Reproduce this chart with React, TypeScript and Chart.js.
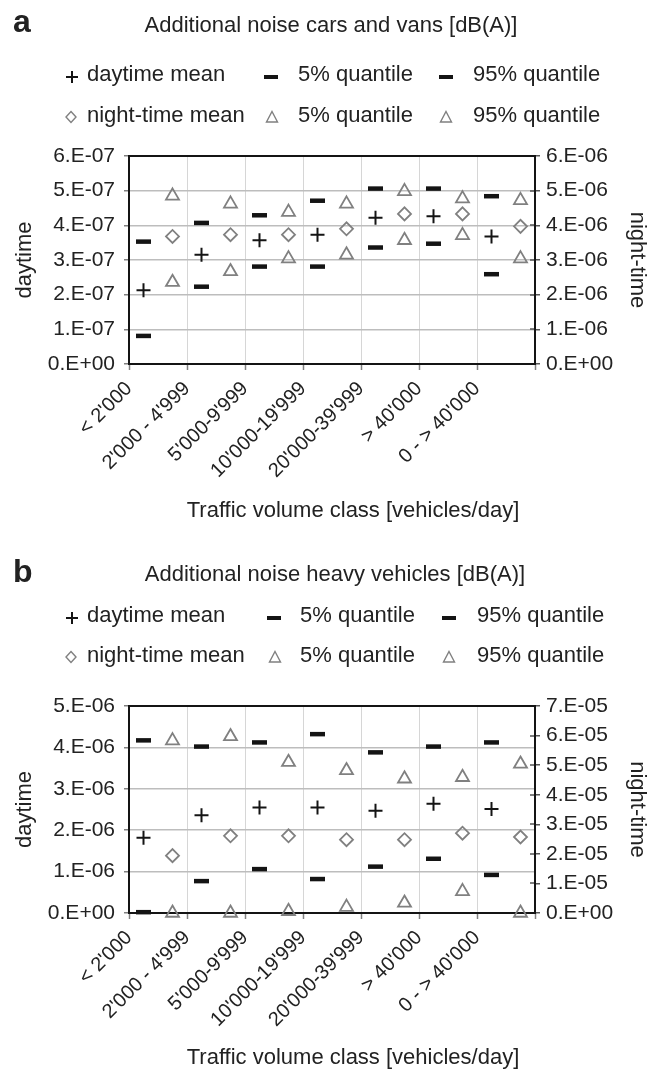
import React, { useEffect, useRef } from 'react';
import { Chart, registerables } from 'chart.js';

Chart.register(...registerables);

// ---------- data ----------
const categories = ["< 2'000", "2'000 - 4'999", "5'000-9'999", "10'000-19'999", "20'000-39'999", "> 40'000", "0 - > 40'000"];

// panel a: cars and vans
const aDayMean = [2.13e-7, 3.15e-7, 3.57e-7, 3.73e-7, 4.22e-7, 4.26e-7, 3.68e-7];
const aDayQ5 = [0.81e-7, 2.23e-7, 2.81e-7, 2.81e-7, 3.36e-7, 3.47e-7, 2.59e-7];
const aDayQ95 = [3.53e-7, 4.07e-7, 4.29e-7, 4.71e-7, 5.06e-7, 5.06e-7, 4.84e-7];
const aNightMean = [3.68e-6, 3.73e-6, 3.73e-6, 3.9e-6, 4.33e-6, 4.33e-6, 3.97e-6];
const aNightQ5 = [2.36e-6, 2.67e-6, 3.04e-6, 3.15e-6, 3.57e-6, 3.71e-6, 3.04e-6];
const aNightQ95 = [4.85e-6, 4.62e-6, 4.38e-6, 4.62e-6, 4.98e-6, 4.77e-6, 4.72e-6];

// panel b: heavy vehicles
const bDayMean = [1.82e-6, 2.36e-6, 2.55e-6, 2.55e-6, 2.47e-6, 2.64e-6, 2.51e-6];
const bDayQ5 = [0.02e-6, 0.77e-6, 1.06e-6, 0.82e-6, 1.12e-6, 1.31e-6, 0.92e-6];
const bDayQ95 = [4.17e-6, 4.02e-6, 4.12e-6, 4.32e-6, 3.88e-6, 4.02e-6, 4.12e-6];
const bNightMean = [1.94e-5, 2.61e-5, 2.61e-5, 2.48e-5, 2.48e-5, 2.7e-5, 2.57e-5];
const bNightQ5 = [0.0, 0.0, 0.06e-5, 0.2e-5, 0.34e-5, 0.73e-5, 0.0];
const bNightQ95 = [5.83e-5, 5.97e-5, 5.1e-5, 4.82e-5, 4.54e-5, 4.59e-5, 5.04e-5];

const panelLetters = ['a', 'b'];
const panelTitles = ['Additional noise cars and vans [dB(A)]', 'Additional noise heavy vehicles [dB(A)]'];
const legendLabels = ['daytime mean', '5% quantile', '95% quantile', 'night-time mean', '5% quantile', '95% quantile'];
const leftAxisTitle = 'daytime';
const rightAxisTitle = 'night-time';
const xAxisTitle = 'Traffic volume class [vehicles/day]';

// ---------- style ----------
const FONT = "'Liberation Sans', Arial, Helvetica, sans-serif";
const TEXT = '#222222';
const BLACK = '#141414';
const GREY = '#808080';
const W = 665;
const H = 535;
const PLOT_LEFT = 129;
const PLOT_RIGHT = 535;
const DAY_OFF = 0.25;
const NIGHT_OFF = 0.75;

Chart.defaults.font.family = FONT;

function fmtE(v: number): string {
  if (Math.abs(v) < 1e-30) return '0.E+00';
  const [m, e] = v.toExponential(0).split('e');
  const ei = parseInt(e, 10);
  return m + '.E' + (ei < 0 ? '-' : '+') + String(Math.abs(ei)).padStart(2, '0');
}

const framePlugin = {
  id: 'frame',
  beforeDatasetsDraw(chart: any) {
    const { ctx, chartArea } = chart;
    const { left, right, top, bottom } = chartArea;
    ctx.save();
    const y2 = chart.scales.y2;
    ctx.strokeStyle = '#555555';
    ctx.lineWidth = 1.5;
    y2.ticks.forEach((t: any) => {
      const py = Math.round(y2.getPixelForValue(t.value));
      ctx.beginPath();
      ctx.moveTo(right - 5, py);
      ctx.lineTo(right, py);
      ctx.stroke();
    });
    ctx.strokeStyle = BLACK;
    ctx.lineWidth = 2;
    ctx.strokeRect(left, top, right - left, bottom - top);
    ctx.restore();
  },
};

type Spec = {
  dayMean: number[]; dayQ5: number[]; dayQ95: number[];
  nightMean: number[]; nightQ5: number[]; nightQ95: number[];
  dayMax: number; dayStep: number; nightMax: number; nightStep: number;
  plotTop: number; plotBottom: number;
};

function buildConfig(p: Spec): any {
  const pts = (vals: number[], off: number) => vals.map((v, i) => ({ x: i + off, y: v }));
  const ds = (label: string, vals: number[], off: number, axis: string, style: string, radius: number, bw: number, color: string) => ({
    label,
    data: pts(vals, off),
    yAxisID: axis,
    showLine: false,
    clip: false,
    pointStyle: style,
    pointRadius: radius,
    pointBorderWidth: bw,
    pointBorderColor: color,
    pointBackgroundColor: 'rgba(0,0,0,0)',
    borderColor: color,
    backgroundColor: 'rgba(0,0,0,0)',
  });
  return {
    type: 'scatter',
    data: {
      datasets: [
        ds('night-time 5% quantile', p.nightQ5, NIGHT_OFF, 'y2', 'triangle', 7.5, 1.8, GREY),
        ds('night-time 95% quantile', p.nightQ95, NIGHT_OFF, 'y2', 'triangle', 7.5, 1.8, GREY),
        ds('night-time mean', p.nightMean, NIGHT_OFF, 'y2', 'rectRot', 6.5, 1.8, GREY),
        ds('daytime 5% quantile', p.dayQ5, DAY_OFF, 'y', 'line', 7.5, 4.5, BLACK),
        ds('daytime 95% quantile', p.dayQ95, DAY_OFF, 'y', 'line', 7.5, 4.5, BLACK),
        ds('daytime mean', p.dayMean, DAY_OFF, 'y', 'cross', 7, 2, BLACK),
      ],
    },
    options: {
      responsive: false,
      animation: false,
      events: [],
      layout: { padding: { top: p.plotTop, left: 0, right: 0, bottom: 0 } },
      plugins: { legend: { display: false }, tooltip: { enabled: false }, title: { display: false } },
      scales: {
        x: {
          type: 'linear',
          position: 'bottom',
          min: 0,
          max: 7,
          afterFit: (s: any) => { s.height = H - p.plotBottom; },
          ticks: {
            stepSize: 1,
            autoSkip: false,
            maxRotation: 45,
            minRotation: 45,
            padding: 7,
            color: TEXT,
            font: { size: 20, family: FONT },
            callback: (v: number) => categories[Math.round(v)] ?? '',
          },
          grid: { color: '#d6d6d6', lineWidth: 1, tickLength: 6, tickColor: '#808080', tickWidth: 1.5 },
          border: { display: false },
        },
        y: {
          position: 'left',
          min: 0,
          max: p.dayMax,
          afterFit: (s: any) => { s.width = PLOT_LEFT; },
          ticks: { stepSize: p.dayStep, padding: 9, color: TEXT, font: { size: 21, family: FONT }, callback: (v: number) => fmtE(v) },
          grid: { color: '#bdbdbd', lineWidth: 1.5, tickLength: 5, tickColor: '#808080' },
          border: { display: false },
          title: { display: true, text: leftAxisTitle, color: TEXT, font: { size: 22, family: FONT }, padding: { top: 12, bottom: 0 } },
        },
        y2: {
          position: 'right',
          min: 0,
          max: p.nightMax,
          afterFit: (s: any) => { s.width = W - PLOT_RIGHT; },
          ticks: { stepSize: p.nightStep, padding: 6, color: TEXT, font: { size: 21, family: FONT }, callback: (v: number) => fmtE(v) },
          grid: { drawOnChartArea: false, tickLength: 5, tickColor: '#555555', lineWidth: 1.5 },
          border: { display: false },
          title: { display: true, text: rightAxisTitle, color: TEXT, font: { size: 22, family: FONT }, padding: { top: 15, bottom: 0 } },
        },
      },
    },
    plugins: [framePlugin],
  };
}

function ChartCanvas({ spec, top }: { spec: Spec; top: number }) {
  const ref = useRef<HTMLCanvasElement>(null);
  useEffect(() => {
    const chart = new Chart(ref.current as HTMLCanvasElement, buildConfig(spec));
    return () => chart.destroy();
  }, []);
  return (
    <canvas
      ref={ref}
      width={W}
      height={H}
      style={{ position: 'absolute', left: 0, top, width: W, height: H }}
    />
  );
}

function Txt({ x, base, size, bold, children, center, color }: any) {
  const style: any = {
    position: 'absolute',
    top: base - 0.8465 * size,
    fontFamily: FONT,
    fontSize: size,
    lineHeight: 1,
    fontWeight: bold ? 'bold' : 'normal',
    color: color || TEXT,
    whiteSpace: 'nowrap',
  };
  if (center) {
    style.left = x - 300;
    style.width = 600;
    style.textAlign = 'center';
  } else {
    style.left = x;
  }
  return <div style={style}>{children}</div>;
}

function Marker({ kind, cx, cy }: { kind: string; cx: number; cy: number }) {
  const s = 16;
  let el: any = null;
  if (kind === 'plus') {
    el = <path d={`M2 8 H14 M8 2 V14`} stroke={BLACK} strokeWidth={2} fill="none" />;
  } else if (kind === 'dash') {
    el = <rect x={1} y={6} width={14} height={4} fill={BLACK} />;
  } else if (kind === 'diamond') {
    el = <path d="M8 2.5 L13 8 L8 13.5 L3 8 Z" stroke={GREY} strokeWidth={1.4} fill="none" />;
  } else {
    el = <path d="M8 2.5 L13.5 13 L2.5 13 Z" stroke={GREY} strokeWidth={1.4} fill="none" />;
  }
  return (
    <svg width={s} height={s} style={{ position: 'absolute', left: cx - s / 2, top: cy - s / 2 }}>
      {el}
    </svg>
  );
}

function Header({ idx, titleX, titleBase, letterBase, rowY, cols }: any) {
  return (
    <>
      <Txt x={13} base={letterBase} size={32} bold>{panelLetters[idx]}</Txt>
      <Txt x={titleX} base={titleBase} size={22} center>{panelTitles[idx]}</Txt>
      <Marker kind="plus" cx={72} cy={rowY[0] - 5} />
      <Txt x={87} base={rowY[0]} size={22}>{legendLabels[0]}</Txt>
      <Marker kind="dash" cx={cols[0]} cy={rowY[0] - 5} />
      <Txt x={cols[1]} base={rowY[0]} size={22}>{legendLabels[1]}</Txt>
      <Marker kind="dash" cx={cols[2]} cy={rowY[0] - 5} />
      <Txt x={cols[3]} base={rowY[0]} size={22}>{legendLabels[2]}</Txt>
      <Marker kind="diamond" cx={71} cy={rowY[1] - 6} />
      <Txt x={87} base={rowY[1]} size={22}>{legendLabels[3]}</Txt>
      <Marker kind="tri" cx={cols[0] + 1} cy={rowY[1] - 6} />
      <Txt x={cols[1]} base={rowY[1]} size={22}>{legendLabels[4]}</Txt>
      <Marker kind="tri" cx={cols[2]} cy={rowY[1] - 6} />
      <Txt x={cols[3]} base={rowY[1]} size={22}>{legendLabels[5]}</Txt>
    </>
  );
}

const specA: Spec = {
  dayMean: aDayMean, dayQ5: aDayQ5, dayQ95: aDayQ95,
  nightMean: aNightMean, nightQ5: aNightQ5, nightQ95: aNightQ95,
  dayMax: 6e-7, dayStep: 1e-7, nightMax: 6e-6, nightStep: 1e-6,
  plotTop: 156, plotBottom: 364,
};

const specB: Spec = {
  dayMean: bDayMean, dayQ5: bDayQ5, dayQ95: bDayQ95,
  nightMean: bNightMean, nightQ5: bNightQ5, nightQ95: bNightQ95,
  dayMax: 5e-6, dayStep: 1e-6, nightMax: 7e-5, nightStep: 1e-5,
  plotTop: 706 - 535, plotBottom: 913 - 535,
};

export default function App() {
  return (
    <div style={{ position: 'absolute', left: 0, top: 0, width: W, height: 1070, background: '#ffffff', overflow: 'hidden' }}>
      <ChartCanvas spec={specA} top={0} />
      <ChartCanvas spec={specB} top={535} />
      <Header idx={0} titleX={331} titleBase={33} letterBase={32} rowY={[82, 123]} cols={[270.5, 298, 445.5, 473]} />
      <Header idx={1} titleX={335} titleBase={582} letterBase={582} rowY={[623, 663]} cols={[273.5, 300, 448.5, 477]} />
      <Txt x={353} base={518} size={22} center>{xAxisTitle}</Txt>
      <Txt x={353} base={1065} size={22} center>{xAxisTitle}</Txt>
    </div>
  );
}
